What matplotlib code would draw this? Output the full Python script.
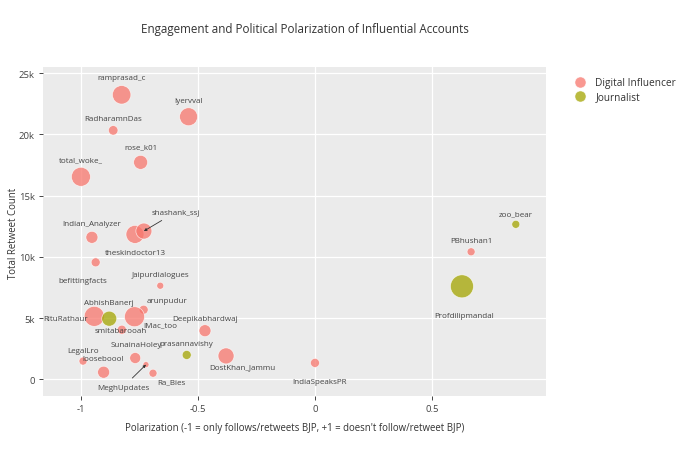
import numpy as np
import matplotlib
matplotlib.use('Agg')
import matplotlib.pyplot as plt
from matplotlib.lines import Line2D

plt.rcParams['font.family'] = ['Open Sans', 'DejaVu Sans']

# === 数据===
accounts = ['ramprasad_c', 'Iyervval', 'RadharamnDas', 'rose_k01', 'total_woke_',
            'Indian_Analyzer', 'befittingfacts', 'shashank_ssj', 'theskindoctor13',
            'Jaipurdialogues', 'arunpudur', 'RituRathaur', 'AbhishBanerj', 'IMac_too',
            'smitabarooah', 'Deepikabhardwaj', 'prasannavishy', 'DostKhan_Jammu',
            'SunainaHoley', 'LegalLro', 'looseboool', 'MeghUpdates', 'Ra_Bies',
            'IndiaSpeaksPR', 'zoo_bear', 'PBhushan1', 'Profdilipmandal']
polarization = [-0.826, -0.540, -0.862, -0.745, -1.000,
                -0.953, -0.769, -0.731, -0.937,
                -0.661, -0.732, -0.943, -0.879, -0.771,
                -0.825, -0.470, -0.548, -0.380,
                -0.768, -0.991, -0.903, -0.722, -0.692,
                0.000, 0.858, 0.667, 0.628]
retweets = [23230, 21440, 20330, 17720, 16540,
            11600, 11840, 12110, 9560,
            7650, 5690, 5150, 4960, 5120,
            4060, 3980, 2000, 1920,
            1750, 1500, 590, 1210, 510,
            1350, 12660, 10420, 7600]
reach = [18.5, 18, 9.5, 14, 19,
         12, 18, 16, 9,
         7, 9, 20, 15, 20,
         9, 12, 9, 16,
         11, 8, 12, 6, 8,
         9, 8, 8, 23]
category = ['Digital Influencer'] * 12 + ['Journalist'] + ['Digital Influencer'] * 3 + \
           ['Journalist'] + ['Digital Influencer'] * 7 + ['Journalist', 'Digital Influencer', 'Journalist']

x_ticks = [-1, -0.5, 0, 0.5]
x_tick_labels = ['-1', '-0.5', '0', '0.5']
y_ticks = [0, 5000, 10000, 15000, 20000, 25000]
y_tick_labels = ['0', '5k', '10k', '15k', '20k', '25k']

# 标签相对点的偏移（像素）
label_offset = {
    'ramprasad_c': (0, 17.7), 'Iyervval': (0, 16.7), 'RadharamnDas': (0, 12),
    'rose_k01': (0, 15.6), 'total_woke_': (0, 16.7), 'Indian_Analyzer': (0, 13.6),
    'befittingfacts': (-52, -46), 'shashank_ssj': (32, 19), 'theskindoctor13': (40, 10),
    'Jaipurdialogues': (0, 11), 'arunpudur': (23, 9), 'RituRathaur': (-29, -2),
    'AbhishBanerj': (0, 16), 'IMac_too': (26, -8), 'smitabarooah': (-1, -1),
    'Deepikabhardwaj': (0, 12), 'prasannavishy': (0, 11), 'DostKhan_Jammu': (16, -11),
    'SunainaHoley': (1, 14), 'LegalLro': (0, 11), 'looseboool': (0, 14),
    'MeghUpdates': (-23, -22.6), 'Ra_Bies': (18.7, -9), 'IndiaSpeaksPR': (5, -19),
    'zoo_bear': (0, 11), 'PBhushan1': (0, 11.4), 'Profdilipmandal': (2, -28.7),
}
arrow_labels = ['shashank_ssj', 'MeghUpdates']

colors = {'Digital Influencer': '#F8766D', 'Journalist': '#A3A500'}

fig = plt.figure(figsize=(6.8, 4.6), dpi=100)
ax = fig.add_axes([43 / 680, 1 - 397 / 460, 503 / 680, 329 / 460])
ax.set_facecolor('#EBEBEB')

px2pt = 72 / fig.dpi
for cat in ['Digital Influencer', 'Journalist']:
    idx = [i for i, c in enumerate(category) if c == cat]
    xs = np.array(polarization)[idx]
    ys = np.array(retweets)[idx]
    sizes = (np.array(reach)[idx] * px2pt) ** 2
    ax.scatter(xs, ys, s=sizes, color=colors[cat], alpha=0.75,
               edgecolors='white', linewidths=0.5, zorder=3)

for i, name in enumerate(accounts):
    dx, dy = label_offset[name]
    if name in arrow_labels:
        ax.annotate(name, (polarization[i], retweets[i]), xytext=(dx, dy),
                    textcoords='offset pixels', ha='center', va='center',
                    fontsize=5.8, color='#444444', zorder=4,
                    arrowprops=dict(arrowstyle='-|>', color='#333333', lw=0.6,
                                    mutation_scale=4, shrinkA=3, shrinkB=0))
    else:
        ax.annotate(name, (polarization[i], retweets[i]), xytext=(dx, dy),
                    textcoords='offset pixels', ha='center', va='center',
                    fontsize=5.8, color='#444444', zorder=4)

ax.set_xlim(-1.162, 0.987)
ax.set_ylim(-1350, 25500)
ax.set_xticks(x_ticks)
ax.set_xticklabels(x_tick_labels)
ax.set_yticks(y_ticks)
ax.set_yticklabels(y_tick_labels)
ax.tick_params(length=3, width=0.7, color='#444444', labelcolor='#444444',
               labelsize=6.8, pad=3)
ax.grid(True, color='white', linewidth=0.9)
ax.set_axisbelow(True)
for sp in ax.spines.values():
    sp.set_visible(False)

fig.text(305 / 680, 1 - 30 / 460,
         'Engagement and Political Polarization of Influential Accounts',
         ha='center', va='center', fontsize=8.4, color='#333333')
fig.text(295 / 680, 1 - 429 / 460,
         "Polarization (-1 = only follows/retweets BJP, +1 = doesn't follow/retweet BJP)",
         ha='center', va='center', fontsize=6.9, color='#333333')
fig.text(14 / 680, 1 - 233 / 460, 'Total Retweet Count', rotation=90,
         ha='center', va='center', fontsize=6.9, color='#333333')

handles = [Line2D([], [], marker='o', linestyle='', markersize=8,
                  markerfacecolor=colors[c], markeredgecolor='white',
                  markeredgewidth=0.5, alpha=0.75, label=c)
           for c in ['Digital Influencer', 'Journalist']]
fig.legend(handles=handles, loc='upper left', bbox_to_anchor=(566 / 680, 1 - 74 / 460),
           frameon=False, fontsize=7.3, handletextpad=0.5, labelspacing=0.35,
           borderaxespad=0, labelcolor='#333333')

fig.savefig('out.png', dpi=100)
